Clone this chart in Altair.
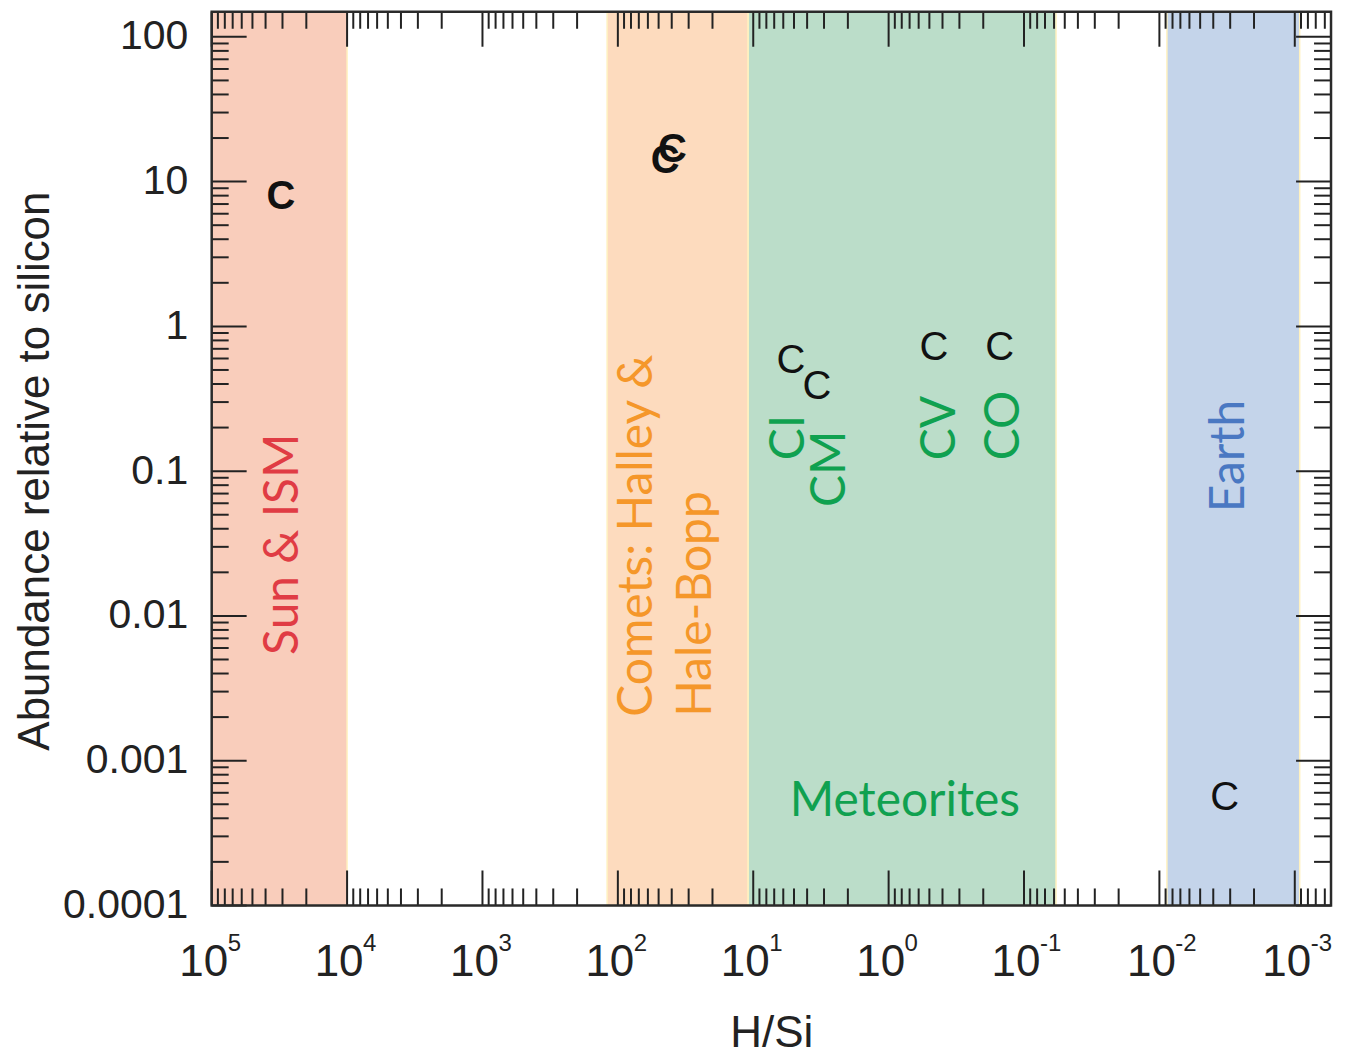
import altair as alt
import pandas as pd

# ---------------- data ----------------
W, H = 1121, 895
XMIN, XMAX = 5.4e-4, 1e5
YMIN, YMAX = 1e-4, 149

band_names = ["Sun & ISM", "Comets", "Meteorites", "Earth"]
band_start = [1e5, 120, 10.9, 0.0088]
band_end = [1e4, 10.9, 0.058, 0.00092]
band_colors = ["#F9CDBB", "#FDDBBE", "#BBDDC9", "#C4D4EA"]

pt_group = ["Sun & ISM", "Halley", "Hale-Bopp", "CI", "CM", "CV", "CO", "Earth"]
pt_x = [30800, 44.7, 39.6, 5.26, 3.38, 0.463, 0.151, 0.0033]
pt_y = [7.88, 13.96, 16.4, 0.574, 0.379, 0.705, 0.705, 0.000556]
pt_weight = ["bold", "bold", "bold", "normal", "normal", "normal", "normal", "normal"]

rot_text = ["Sun & ISM", "Comets: Halley &", "Hale-Bopp", "CI", "CM", "CV", "CO", "Earth"]
rot_x = [23100, 55.7, 20.4, 4.22, 2.10, 0.324, 0.109, 0.00236]
rot_y = [0.00538, 0.00201, 0.00201, 0.119, 0.0565, 0.119, 0.119, 0.052]
rot_color = ["#E03C44", "#F5972A", "#F5972A", "#10A150", "#10A150", "#10A150", "#10A150", "#4A78C2"]

flat_text = ["Meteorites"]
flat_x = [0.758]
flat_y = [0.000418]
flat_color = ["#10A150"]

x_major = [1e5, 1e4, 1e3, 1e2, 1e1, 1e0, 1e-1, 1e-2, 1e-3]
x_base = ["10"] * 9
x_exp = ["5", "4", "3", "2", "1", "0", "-1", "-2", "-3"]
y_major = [1e-4, 1e-3, 1e-2, 1e-1, 1, 10, 100]
minor_mult = [2, 3, 4, 5, 6, 7, 8, 9]
x_minor = [m * 10.0 ** d for d in range(-4, 5) for m in minor_mult if XMIN <= m * 10.0 ** d <= XMAX]
y_minor = [m * 10.0 ** d for d in range(-4, 3) for m in minor_mult if YMIN <= m * 10.0 ** d <= YMAX]

# ---------------- scales / axes ----------------
xs = alt.Scale(type="log", domain=[XMIN, XMAX], reverse=True, nice=False)
ys = alt.Scale(type="log", domain=[YMIN, YMAX], nice=False)

AXFONT = "Liberation Sans"
x_axis = alt.Axis(values=x_major, labels=False, ticks=False, tickSize=0, domain=False, grid=False,
                  title="H/Si", titleFont=AXFONT, titleFontSize=44, titleFontWeight="normal",
                  titleColor="#222", titlePadding=106)
y_axis = alt.Axis(values=y_major, format="~g", ticks=False, tickSize=0, domain=False, grid=False,
                  labelFont=AXFONT, labelFontSize=41, labelColor="#222", labelPadding=24,
                  labelFlush=False, labelOverlap=False, labelBound=False,
                  title="Abundance relative to silicon", titleFont=AXFONT, titleFontSize=44,
                  titleFontWeight="normal", titleColor="#222", titlePadding=5, titleY=H / 2 + 12)


def X(field):
    return alt.X(f"{field}:Q", scale=xs, axis=x_axis, title="H/Si")


def Y(field):
    return alt.Y(f"{field}:Q", scale=ys, axis=y_axis, title="Abundance relative to silicon")


# ---------------- layers ----------------
band_df = pd.DataFrame({"name": band_names, "x0": band_start, "x1": band_end})
bands = alt.Chart(band_df).mark_rect(stroke="#FFF1C0", strokeWidth=1.5).encode(
    x=X("x0"), x2="x1", y=alt.value(0), y2=alt.value(H),
    color=alt.Color("name:N", scale=alt.Scale(domain=band_names, range=band_colors), legend=None),
)

TICK = "#222"
MAJ, MIN = 35, 17


def xticks(vals, length, top):
    df = pd.DataFrame({"v": vals})
    return alt.Chart(df).mark_rule(color=TICK, strokeWidth=2).encode(
        x=X("v"),
        y=alt.value(0 if top else H),
        y2=alt.value(length if top else H - length),
    )


def yticks(vals, length, right):
    df = pd.DataFrame({"v": vals})
    return alt.Chart(df).mark_rule(color=TICK, strokeWidth=2).encode(
        y=Y("v"),
        x=alt.value(W if right else 0),
        x2=alt.value(W - length if right else length),
    )


ticks = [
    xticks(x_major, MAJ, False), xticks(x_major, MAJ, True),
    xticks(x_minor, MIN, False), xticks(x_minor, MIN, True),
    yticks(y_major, MAJ, False), yticks(y_major, MAJ, True),
    yticks(y_minor, MIN, False), yticks(y_minor, MIN, True),
]

frame = alt.Chart(pd.DataFrame({"v": [1]})).mark_rect(
    filled=False, stroke="#2a2a2a", strokeWidth=2.5
).encode(x=alt.value(0), x2=alt.value(W), y=alt.value(0), y2=alt.value(H))

lab_df = pd.DataFrame({"v": x_major, "b": x_base, "e": x_exp})
bases = alt.Chart(lab_df).mark_text(align="center", baseline="alphabetic", font=AXFONT, fontSize=44,
                                    color="#222", dx=-8).encode(
    x=X("v"), y=alt.value(H + 71), text="b:N")
exps = alt.Chart(lab_df).mark_text(align="left", baseline="alphabetic", font=AXFONT, fontSize=24,
                                   color="#222", dx=16).encode(
    x=X("v"), y=alt.value(H + 46), text="e:N")

pt_df = pd.DataFrame({"g": pt_group, "x": pt_x, "y": pt_y, "w": pt_weight, "t": ["C"] * len(pt_x)})
pts_bold = alt.Chart(pt_df).transform_filter(alt.datum.w == "bold").mark_text(
    font=AXFONT, fontSize=40, fontWeight="bold", color="#111", baseline="middle", align="center"
).encode(x=X("x"), y=Y("y"), text="t:N")
pts_norm = alt.Chart(pt_df).transform_filter(alt.datum.w == "normal").mark_text(
    font=AXFONT, fontSize=40, color="#111", baseline="middle", align="center"
).encode(x=X("x"), y=Y("y"), text="t:N")

rot_df = pd.DataFrame({"t": rot_text, "x": rot_x, "y": rot_y, "c": rot_color})
rot = alt.Chart(rot_df).mark_text(angle=270, align="left", baseline="alphabetic",
                                  font="Lato", fontSize=48).encode(
    x=X("x"), y=Y("y"), text="t:N", color=alt.Color("c:N", scale=None))

flat_df = pd.DataFrame({"t": flat_text, "x": flat_x, "y": flat_y, "c": flat_color})
flat = alt.Chart(flat_df).mark_text(align="center", baseline="alphabetic",
                                    font="Lato", fontSize=48).encode(
    x=X("x"), y=Y("y"), text="t:N", color=alt.Color("c:N", scale=None))

chart = alt.layer(bands, *ticks, frame, bases, exps, pts_norm, pts_bold, rot, flat).properties(
    width=W, height=H,
    padding={"left": 204, "top": 3, "right": 8, "bottom": 150},
    autosize=alt.AutoSizeParams(type="none"),
).configure_view(strokeOpacity=0).configure(background="white")

chart.save("out.html", embed_options={"renderer": "svg", "actions": False})
